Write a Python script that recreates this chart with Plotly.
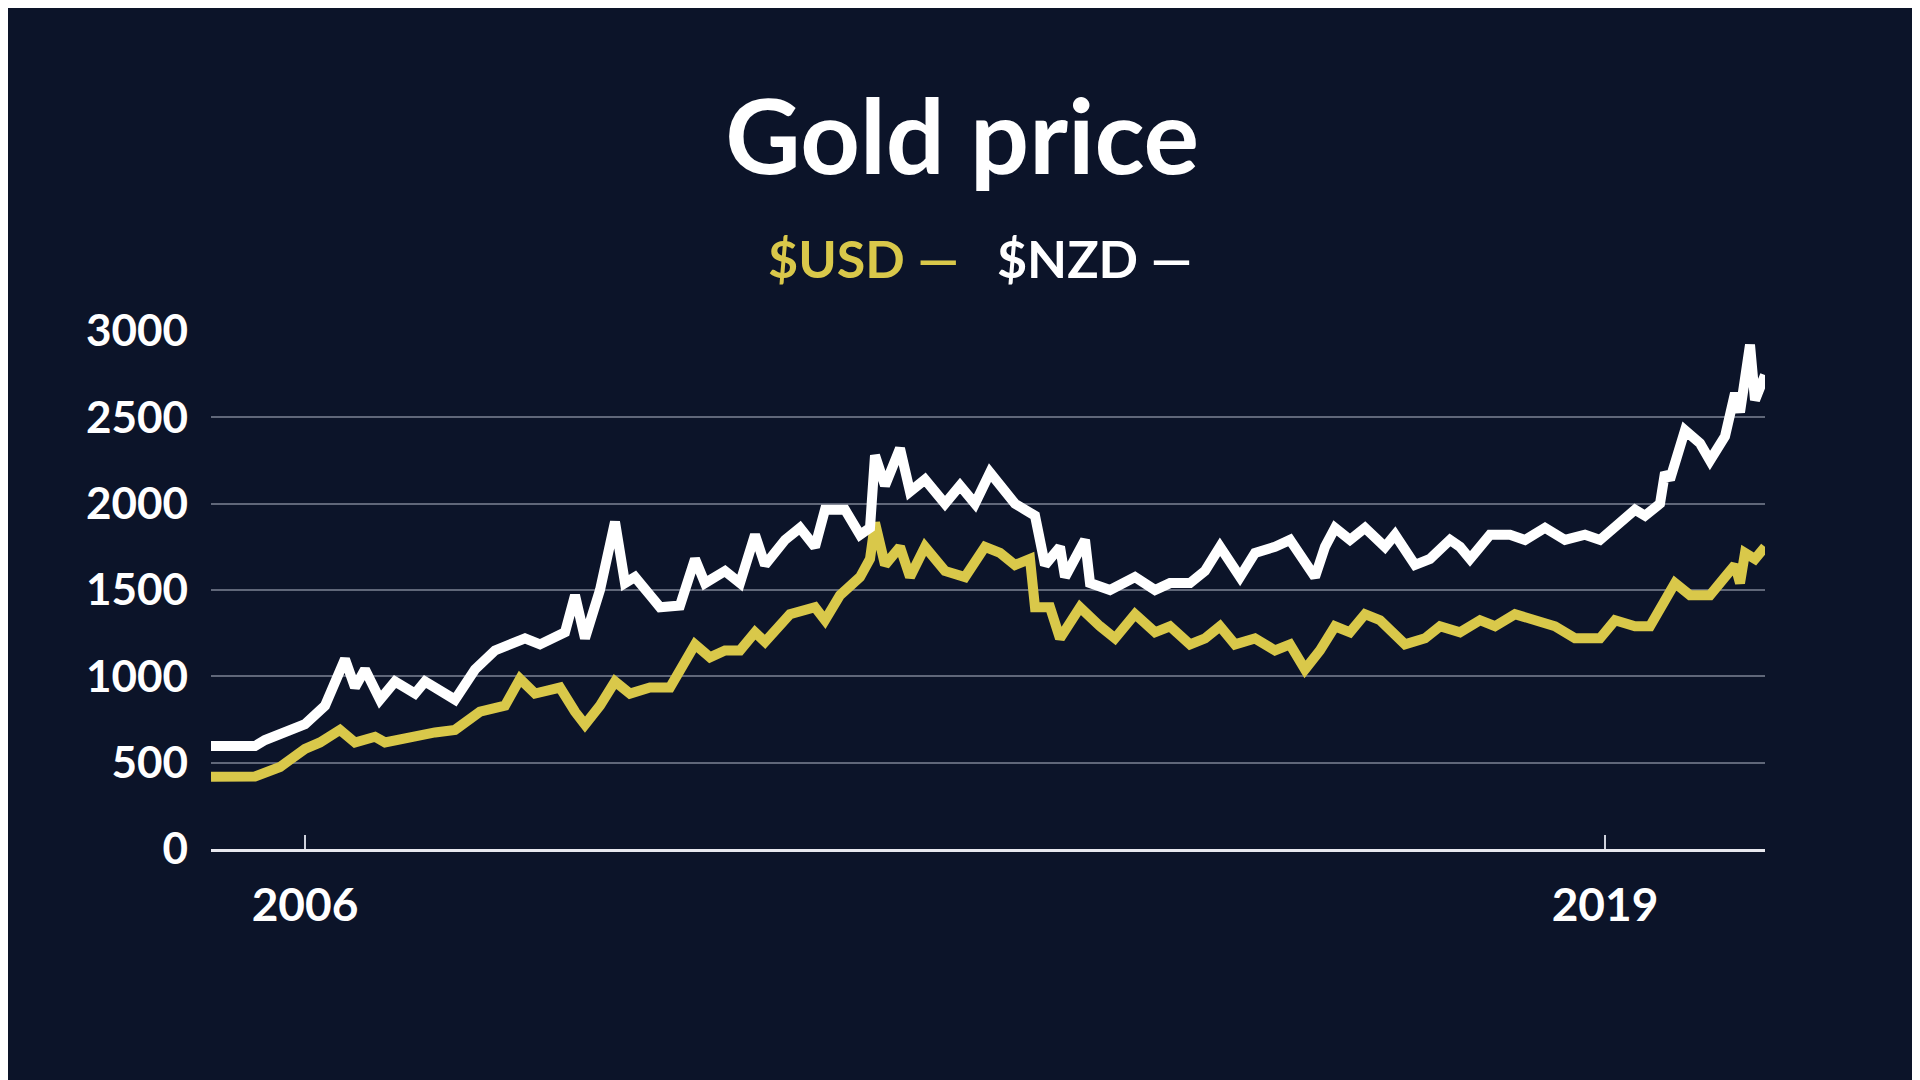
import plotly.graph_objects as go

nzd_x = [2005.06,2005.5,2005.6,2006.0,2006.2,2006.4,2006.5,2006.6,2006.75,2006.9,2007.1,2007.2,2007.5,2007.7,2007.9,2008.2,2008.35,2008.6,2008.7,2008.8,2008.95,2009.05,2009.1,2009.2,2009.3,2009.45,2009.55,2009.75,2009.9,2010.0,2010.2,2010.35,2010.5,2010.6,2010.8,2010.95,2011.1,2011.2,2011.4,2011.55,2011.65,2011.7,2011.8,2011.95,2012.05,2012.2,2012.4,2012.55,2012.7,2012.85,2012.95,2013.1,2013.2,2013.3,2013.4,2013.55,2013.6,2013.8,2013.85,2014.05,2014.3,2014.5,2014.65,2014.85,2015.0,2015.15,2015.35,2015.5,2015.7,2015.85,2016.1,2016.2,2016.3,2016.45,2016.6,2016.8,2016.9,2017.1,2017.25,2017.45,2017.55,2017.65,2017.85,2018.05,2018.2,2018.4,2018.6,2018.8,2018.95,2019.1,2019.3,2019.4,2019.55,2019.6,2019.65,2019.8,2019.95,2020.05,2020.2,2020.3,2020.35,2020.45,2020.5,2020.6]
nzd_y = [596,596,631,723,830,1100,936,1040,865,970,900,970,865,1040,1150,1220,1185,1255,1470,1220,1500,1790,1895,1540,1575,1470,1400,1410,1680,1540,1610,1540,1820,1645,1790,1860,1750,1965,1965,1820,1860,2280,2105,2320,2070,2140,2000,2105,2000,2180,2105,2000,1965,1930,1645,1750,1575,1790,1540,1500,1575,1500,1540,1540,1610,1750,1575,1715,1750,1790,1575,1750,1860,1790,1860,1750,1820,1645,1680,1790,1750,1680,1820,1820,1790,1860,1790,1820,1790,1860,1965,1930,2000,2180,2140,2425,2350,2250,2390,2640,2530,2920,2600,2745]

usd_x = [2005.06,2005.5,2005.75,2006.0,2006.15,2006.35,2006.5,2006.7,2006.8,2007.05,2007.3,2007.5,2007.75,2008.0,2008.15,2008.3,2008.55,2008.7,2008.8,2008.95,2009.1,2009.25,2009.45,2009.65,2009.75,2009.9,2010.05,2010.2,2010.35,2010.5,2010.6,2010.85,2011.1,2011.2,2011.35,2011.55,2011.65,2011.7,2011.8,2011.95,2012.05,2012.2,2012.4,2012.6,2012.8,2012.95,2013.1,2013.25,2013.3,2013.45,2013.55,2013.75,2013.95,2014.1,2014.3,2014.5,2014.65,2014.85,2015.0,2015.15,2015.3,2015.5,2015.7,2015.85,2016.0,2016.15,2016.3,2016.45,2016.6,2016.75,2017.0,2017.2,2017.35,2017.55,2017.75,2017.9,2018.1,2018.3,2018.5,2018.7,2018.95,2019.1,2019.3,2019.45,2019.55,2019.7,2019.85,2020.05,2020.2,2020.3,2020.35,2020.4,2020.5,2020.6]
usd_y = [418,420,475,580,617,690,617,650,617,650,675,690,795,830,985,900,935,795,720,830,970,900,935,935,1040,1185,1110,1150,1150,1255,1200,1360,1400,1325,1470,1575,1680,1890,1645,1750,1575,1750,1610,1575,1750,1715,1645,1680,1400,1400,1220,1400,1290,1220,1360,1255,1290,1185,1220,1290,1185,1220,1150,1185,1040,1150,1290,1255,1360,1325,1185,1220,1290,1255,1325,1290,1360,1325,1290,1220,1220,1325,1290,1290,1400,1540,1470,1470,1575,1645,1540,1715,1680,1750]

y_ticks = [0,500,1000,1500,2000,2500,3000]
x_ticks = [2006, 2019]

WHITE = "#ffffff"
GOLD = "#d9c84a"

fig = go.Figure()
fig.add_trace(go.Scatter(x=usd_x, y=usd_y, mode="lines", line=dict(color=GOLD, width=10), name="$USD"))
fig.add_trace(go.Scatter(x=nzd_x, y=nzd_y, mode="lines", line=dict(color=WHITE, width=10), name="$NZD"))

fig.update_layout(
    width=1920, height=1080, showlegend=False,
    paper_bgcolor="#0c1429", plot_bgcolor="rgba(0,0,0,0)",
    margin=dict(l=203, r=163, t=323, b=239),
    font=dict(family="Lato", color=WHITE),
    title=dict(text="<b>Gold price</b>", x=0.497, xanchor="center", y=0.88, yanchor="middle",
               font=dict(size=104, color=WHITE, family="Lato")),
    xaxis=dict(range=[2005.06, 2020.6], tickvals=x_ticks, ticktext=[f"<b>{t}</b>" for t in x_ticks],
               showgrid=False, zeroline=False, showline=True, linecolor="#e8e8ee", linewidth=3,
               ticks="inside", ticklen=14, tickwidth=2, tickcolor="#cfd2dc",
               tickfont=dict(size=46, color=WHITE, family="Lato"), fixedrange=True,
               ticklabelstandoff=14),
    yaxis=dict(range=[0, 3000], tickvals=y_ticks, ticktext=[f"<b>{t}</b>" for t in y_ticks],
               showgrid=True, gridcolor="rgba(200,205,220,0.45)",
               gridwidth=1.5, zeroline=False, ticks="", tickfont=dict(size=44, color=WHITE, family="Lato"),
               ticklabelstandoff=22),
)
fig.add_annotation(xref="paper", yref="paper", x=0.495, y=1.14, xanchor="center", yanchor="middle", showarrow=False,
                   text=f"<b><span style='color:{GOLD}'>$USD —</span>   <span style='color:{WHITE}'>$NZD —</span></b>",
                   font=dict(size=52, family="Lato"))
fig.write_html("out.html")
